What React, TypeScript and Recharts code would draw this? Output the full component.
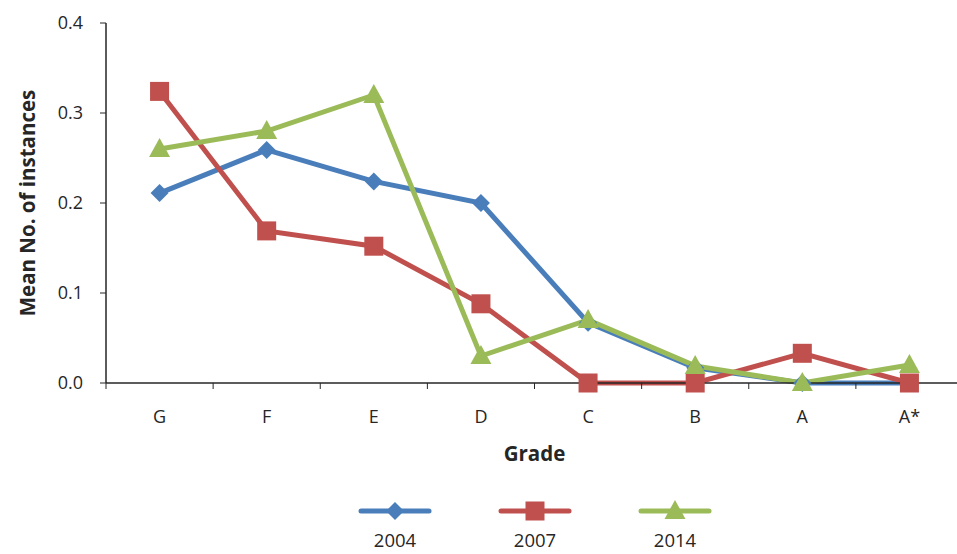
import { LineChart, Line, XAxis, YAxis, Legend } from 'recharts';

const grades = ['G', 'F', 'E', 'D', 'C', 'B', 'A', 'A*'];
const values2004 = [0.211, 0.259, 0.224, 0.2, 0.067, 0.017, 0, 0];
const values2007 = [0.324, 0.169, 0.152, 0.088, 0, 0, 0.033, 0];
const values2014 = [0.26, 0.28, 0.32, 0.03, 0.07, 0.019, 0, 0.02];
const yTicks = [0, 0.1, 0.2, 0.3, 0.4];

const data = grades.map((g, i) => ({
  grade: g,
  y2004: values2004[i],
  y2007: values2007[i],
  y2014: values2014[i],
}));

const BLUE = '#4a7ebb';
const RED = '#c0504d';
const GREEN = '#9bbb59';
const INK = '#262626';
const FONT = '"Open Sans", "DejaVu Sans", sans-serif';

const CHART_W = 963;
const AXIS_LEFT = 106;
const HALF_BAND = (CHART_W - AXIS_LEFT) / grades.length / 2;

const Diamond = ({ cx, cy, color }: any) => (
  <path d={`M${cx},${cy - 9} L${cx + 9},${cy} L${cx},${cy + 9} L${cx - 9},${cy} Z`} fill={color} />
);
const Square = ({ cx, cy, color }: any) => (
  <rect x={cx - 9.5} y={cy - 9.5} width={19} height={19} fill={color} />
);
const Triangle = ({ cx, cy, color }: any) => (
  <path d={`M${cx},${cy - 11} L${cx + 10.5},${cy + 8} L${cx - 10.5},${cy + 8} Z`} fill={color} />
);

const series = [
  { key: 'y2004', name: '2004', color: BLUE, Marker: Diamond },
  { key: 'y2007', name: '2007', color: RED, Marker: Square },
  { key: 'y2014', name: '2014', color: GREEN, Marker: Triangle },
];

const XTick = ({ x, y, payload }: any) => (
  <g>
    <line x1={x - HALF_BAND} x2={x - HALF_BAND} y1={y - 8} y2={y - 2} stroke={INK} strokeWidth={1} />
    <text x={x} y={y + 32} textAnchor="middle" fill={INK} fontSize={18} fontFamily={FONT}>
      {payload.value}
    </text>
  </g>
);

const LegendContent = () => (
  <div style={{ display: 'flex', justifyContent: 'center', paddingLeft: 107, paddingTop: 36, fontFamily: FONT }}>
    {series.map((s) => (
      <div key={s.key} style={{ width: 140, textAlign: 'center' }}>
        <svg width={76} height={24} style={{ display: 'block', margin: '0 auto' }}>
          <line x1={4} x2={72} y1={12} y2={12} stroke={s.color} strokeWidth={5} strokeLinecap="round" />
          <s.Marker cx={38} cy={12} color={s.color} />
        </svg>
        <div style={{ fontSize: 18.5, lineHeight: '22px', color: INK, marginTop: 6 }}>{s.name}</div>
      </div>
    ))}
  </div>
);

export default function App() {
  return (
    <div style={{ position: 'fixed', left: 0, top: 0, width: 957, height: 554, overflow: 'hidden', background: '#fff' }}>
      <LineChart width={CHART_W} height={554} data={data} margin={{ top: 23, right: 0, bottom: 0, left: 0 }}>
        <XAxis
          dataKey="grade"
          height={80}
          padding={{ left: HALF_BAND, right: HALF_BAND }}
          axisLine={{ stroke: INK, strokeWidth: 1.5 }}
          tickLine={false}
          tick={<XTick />}
          interval={0}
          label={{ value: 'Grade', position: 'insideBottom', offset: 2, fill: INK, fontSize: 20.5, fontWeight: 700, fontFamily: FONT }}
        />
        <YAxis
          width={AXIS_LEFT}
          domain={[0, 0.4]}
          ticks={yTicks}
          tickFormatter={(v: number) => v.toFixed(1)}
          axisLine={{ stroke: INK, strokeWidth: 1.5 }}
          tickLine={{ stroke: INK }}
          tickSize={6}
          tickMargin={17}
          tick={{ fill: INK, fontSize: 18, fontFamily: FONT }}
          label={{ value: 'Mean No. of instances', angle: -90, position: 'insideLeft', offset: 28, style: { textAnchor: 'middle' }, fill: INK, fontSize: 20.5, fontWeight: 700, fontFamily: FONT }}
        />
        <Legend verticalAlign="bottom" height={91} content={<LegendContent />} />
        {series.map((s) => (
          <Line
            key={s.key}
            dataKey={s.key}
            name={s.name}
            type="linear"
            stroke={s.color}
            strokeWidth={5}
            dot={(p: any) => <s.Marker key={`${s.key}-${p.index}`} cx={p.cx} cy={p.cy} color={s.color} />}
            activeDot={false}
            isAnimationActive={false}
          />
        ))}
      </LineChart>
    </div>
  );
}
